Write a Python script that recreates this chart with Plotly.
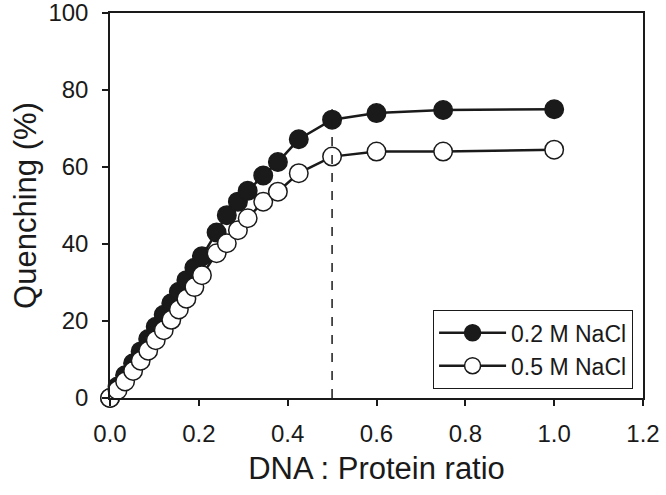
import plotly.graph_objects as go

ratio = [0, 0.017, 0.034, 0.052, 0.069, 0.086, 0.103, 0.121, 0.138, 0.155, 0.172, 0.190,
         0.207, 0.240, 0.263, 0.288, 0.310, 0.345, 0.378, 0.425, 0.5, 0.6, 0.75, 1.0]
q_02 = [0, 3.0, 5.9, 9.0, 12.1, 15.3, 18.5, 21.6, 24.6, 27.6, 30.6, 33.8,
        36.8, 43.0, 47.5, 51.0, 53.8, 57.8, 61.3, 67.2, 72.3, 74.0, 74.8, 75.0]
q_05 = [0, 2.0, 4.3, 7.0, 9.7, 12.3, 15.0, 17.6, 20.3, 23.0, 25.8, 28.8,
        31.9, 37.6, 40.2, 43.6, 46.7, 51.0, 53.6, 58.4, 62.7, 64.0, 64.0, 64.5]
names = ["0.2 M NaCl", "0.5 M NaCl"]
x_ticks = [0.0, 0.2, 0.4, 0.6, 0.8, 1.0, 1.2]
x_ticktext = ["0.0", "0.2", "0.4", "0.6", "0.8", "1.0", "1.2"]
y_ticks = [0, 20, 40, 60, 80, 100]
break_ratio = 0.5
break_top = 75

FONT = "Liberation Sans, Arial, sans-serif"
INK = "#1a1a1a"

fig = go.Figure()
fig.add_trace(go.Scatter(
    x=ratio, y=q_02, name=names[0], mode="lines+markers",
    line=dict(color=INK, width=2.5),
    marker=dict(symbol="circle", size=18.5, color=INK, line=dict(color=INK, width=1.5)),
    cliponaxis=False,
))
fig.add_trace(go.Scatter(
    x=ratio, y=q_05, name=names[1], mode="lines+markers",
    line=dict(color=INK, width=2.5),
    marker=dict(symbol="circle", size=18.5, color="white", line=dict(color=INK, width=1.5)),
    cliponaxis=False,
))
fig.add_shape(type="line", x0=break_ratio, x1=break_ratio, y0=0, y1=break_top,
              xref="x", yref="y", line=dict(color=INK, width=1.5, dash="dash"))

axis_common = dict(showgrid=False, zeroline=False, showline=True, linecolor=INK, linewidth=1.5,
                   mirror=True, ticks="outside", ticklen=6, tickwidth=1.5, tickcolor=INK,
                   automargin=False, ticklabeloverflow="allow",
                   tickfont=dict(family=FONT, size=24, color=INK))
fig.update_xaxes(range=[0, 1.2], tickvals=x_ticks, ticktext=x_ticktext,
                 ticklabelstandoff=7,
                 title=dict(text="DNA : Protein ratio", font=dict(family=FONT, size=31, color=INK),
                            standoff=12),
                 **axis_common)
fig.update_yaxes(range=[0, 100], tickvals=y_ticks, ticklabelstandoff=9,
                 title=dict(text="Quenching (%)", font=dict(family=FONT, size=31, color=INK),
                            standoff=3),
                 **axis_common)
fig.update_layout(
    width=666, height=495,
    margin=dict(l=110, r=23, t=13, b=97),
    paper_bgcolor="white", plot_bgcolor="white",
    font=dict(family=FONT, color=INK),
    legend=dict(x=0.981, y=0.023, xanchor="right", yanchor="bottom",
                bordercolor=INK, borderwidth=1.2, bgcolor="white",
                font=dict(family=FONT, size=23, color=INK), itemwidth=67,
                tracegroupgap=0),
    showlegend=True,
)
fig.write_html("out.html", config={"displayModeBar": False},
               post_script="document.body.style.margin='0';document.body.style.overflow='hidden';")
